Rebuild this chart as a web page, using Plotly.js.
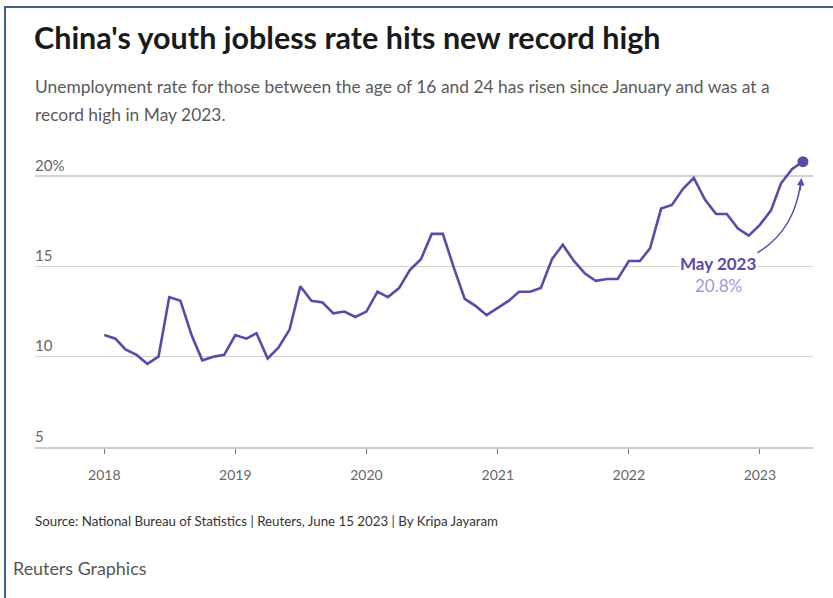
<!DOCTYPE html>
<html>
<head>
<meta charset="utf-8">
<script src="https://cdn.plot.ly/plotly-3.0.1.min.js"></script>
<style>
  html, body { margin: 0; padding: 0; background: #ffffff; }
  #wrap { position: relative; width: 833px; height: 598px; }
  #chart { width: 833px; height: 598px; }
  #frame { position: absolute; left: 4px; top: 6px; width: 829px; height: 592px;
           border-top: 2px solid #3d6190; border-left: 2px solid #3d6190; pointer-events: none; box-sizing: border-box; }
</style>
</head>
<body>
<div id="wrap">
  <div id="chart"></div>
  <div id="frame"></div>
</div>
<script>
// ---- Data ----
const months2018 = ["2018-01","2018-02","2018-03","2018-04","2018-05","2018-06","2018-07","2018-08","2018-09","2018-10","2018-11","2018-12"];
const months2019 = ["2019-01","2019-02","2019-03","2019-04","2019-05","2019-06","2019-07","2019-08","2019-09","2019-10","2019-11","2019-12"];
const months2020 = ["2020-01","2020-02","2020-03","2020-04","2020-05","2020-06","2020-07","2020-08","2020-09","2020-10","2020-11","2020-12"];
const months2021 = ["2021-01","2021-02","2021-03","2021-04","2021-05","2021-06","2021-07","2021-08","2021-09","2021-10","2021-11","2021-12"];
const months2022 = ["2022-01","2022-02","2022-03","2022-04","2022-05","2022-06","2022-07","2022-08","2022-09","2022-10","2022-11","2022-12"];
const months2023 = ["2023-01","2023-02","2023-03","2023-04","2023-05"];

const rate2018 = [11.2, 11.0, 10.4, 10.1, 9.6, 10.0, 13.3, 13.1, 11.2, 9.8, 10.0, 10.1];
const rate2019 = [11.2, 11.0, 11.3, 9.9, 10.5, 11.5, 13.9, 13.1, 13.0, 12.4, 12.5, 12.2];
const rate2020 = [12.5, 13.6, 13.3, 13.8, 14.8, 15.4, 16.8, 16.8, 14.9, 13.2, 12.8, 12.3];
const rate2021 = [12.7, 13.1, 13.6, 13.6, 13.8, 15.4, 16.2, 15.3, 14.6, 14.2, 14.3, 14.3];
const rate2022 = [15.3, 15.3, 16.0, 18.2, 18.4, 19.3, 19.9, 18.7, 17.9, 17.9, 17.1, 16.7];
const rate2023 = [17.3, 18.1, 19.6, 20.4, 20.8];

const yearTickVals = ["2018-01-01","2019-01-01","2020-01-01","2021-01-01","2022-01-01","2023-01-01"];
const yearTickText = ["2018","2019","2020","2021","2022","2023"];
const rateTickVals = [5, 10, 15, 20];
const rateTickText = ["5", "10", "15", "20%"];

const latestLabel = "May 2023";
const latestValueText = "20.8%";

// ---- Build ----
const months = [].concat(months2018, months2019, months2020, months2021, months2022, months2023);
const rates = [].concat(rate2018, rate2019, rate2020, rate2021, rate2022, rate2023);
const last = months.length - 1;

const PURPLE = "#5f48a8";
const FONT = "Lato, Roboto, 'Liberation Sans', sans-serif";

// plot-area geometry helpers (for decorations only)
const W = 833, H = 598, ML = 35, MR = 20, MT = 149, MB = 151;
const PW = W - ML - MR, PH = H - MT - MB;
const px = x => (x - ML) / PW;
const py = y => (H - MB - y) / PH;

const traces = [
  {
    type: "scatter", mode: "lines",
    x: months, y: rates,
    line: { color: PURPLE, width: 2.6 },
    hoverinfo: "skip", showlegend: false
  },
  {
    type: "scatter", mode: "markers",
    x: [months[last]], y: [rates[last]],
    marker: { color: PURPLE, size: 11 },
    hoverinfo: "skip", showlegend: false, cliponaxis: false
  }
];

const layout = {
  width: W, height: H,
  margin: { l: ML, r: MR, t: MT, b: MB },
  paper_bgcolor: "#ffffff", plot_bgcolor: "#ffffff",
  showlegend: false,
  font: { family: FONT, color: "#666666" },
  title: {
    text: "<b>China's youth jobless rate hits new record high</b>",
    font: { family: FONT, size: 30.5, color: "#1a1a1a" },
    x: 34 / W, xanchor: "left", xref: "container",
    y: 1 - 38 / H, yanchor: "middle", yref: "container"
  },
  xaxis: {
    type: "date",
    range: ["2017-06-22", "2023-05-29"],
    tickmode: "array", tickvals: yearTickVals, ticktext: yearTickText,
    ticks: "outside", ticklen: 5, tickwidth: 1.2, tickcolor: "#777777",
    ticklabelstandoff: 10,
    tickfont: { family: FONT, size: 14, color: "#666666" },
    showgrid: false, zeroline: false,
    showline: true, linecolor: "#cfcfcf", linewidth: 1.5,
    fixedrange: true
  },
  yaxis: {
    range: [5, 21.5],
    tickmode: "array", tickvals: rateTickVals, ticktext: rateTickText,
    ticklabelposition: "inside top",
    ticklabelstandoff: -3,
    tickfont: { family: FONT, size: 15, color: "#666666" },
    showgrid: true, gridcolor: "#d2d2d2", gridwidth: 1.5,
    zeroline: false, showline: false, ticks: "",
    fixedrange: true
  },
  shapes: [
    {
      type: "path", xref: "paper", yref: "paper",
      path: "M " + px(757) + "," + py(253) + " Q " + px(794) + "," + py(231) + " " + px(800.5) + "," + py(184),
      line: { color: PURPLE, width: 1.5 }
    }
  ],
  annotations: [
    {
      xref: "paper", yref: "paper", x: px(33), y: py(74), xanchor: "left", yanchor: "top",
      text: "Unemployment rate for those between the age of 16 and 24 has risen since January and was at a",
      showarrow: false, align: "left",
      font: { family: FONT, size: 17.4, color: "#5a5a5a" }
    },
    {
      xref: "paper", yref: "paper", x: px(33), y: py(102), xanchor: "left", yanchor: "top",
      text: "record high in May 2023.",
      showarrow: false, align: "left",
      font: { family: FONT, size: 17.4, color: "#5a5a5a" }
    },
    {
      xref: "paper", yref: "paper", x: px(718), y: py(263), xanchor: "center", yanchor: "middle",
      text: "<b>" + latestLabel + "</b>", showarrow: false,
      bgcolor: "#ffffff", borderpad: 1,
      font: { family: FONT, size: 17, color: PURPLE }
    },
    {
      xref: "paper", yref: "paper", x: px(718), y: py(285), xanchor: "center", yanchor: "middle",
      text: latestValueText, showarrow: false,
      font: { family: FONT, size: 17, color: "#a795d8" }
    },
    {
      xref: "paper", yref: "paper", x: px(801.5), y: py(178), text: "",
      showarrow: true, arrowhead: 2, arrowsize: 1, arrowwidth: 1.5, arrowcolor: PURPLE,
      ax: -1.5, ay: 14
    },
    {
      xref: "paper", yref: "paper", x: px(33), y: py(521), xanchor: "left", yanchor: "middle",
      text: "Source: National Bureau of Statistics | Reuters, June 15 2023 | By Kripa Jayaram",
      showarrow: false, font: { family: FONT, size: 13.3, color: "#333333" }
    },
    {
      xref: "paper", yref: "paper", x: px(11), y: py(568), xanchor: "left", yanchor: "middle",
      text: "Reuters Graphics",
      showarrow: false, font: { family: FONT, size: 17.9, color: "#555555" }
    }
  ]
};

Plotly.newPlot("chart", traces, layout, { displayModeBar: false, staticPlot: true });
</script>
</body>
</html>
